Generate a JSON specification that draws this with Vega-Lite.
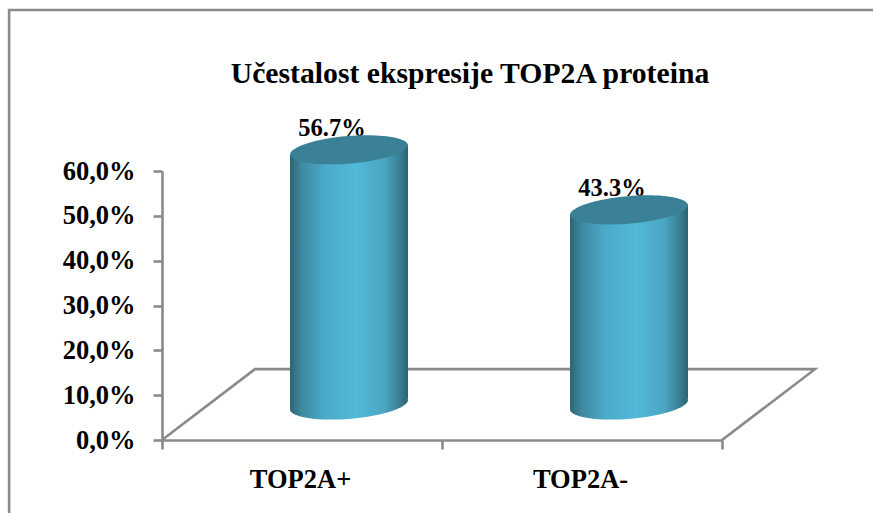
{
"$schema":"https://vega.github.io/schema/vega-lite/v6.json",
"width":560,"height":269,
"autosize":{"type":"none"},
"padding":{"left":162,"top":171,"right":151,"bottom":73},
"background":"white",
"config":{"view":{"stroke":null},"font":"Liberation Serif"},
"title":{"text":"Učestalost ekspresije TOP2A proteina","font":"Liberation Serif","fontSize":29.7,"fontWeight":"bold","color":"black","anchor":"middle","dx":28,"offset":-108,"baseline":"alphabetic"},
"datasets":{
"bars":[{"category":"TOP2A+","value":56.7,"label":"56.7%"},{"category":"TOP2A-","value":43.3,"label":"43.3%"}],
"outline":[
{"part":"frame","step":1,"u":-0.546,"v":-16.3},
{"part":"frame","step":2,"u":-0.546,"v":95.9},
{"part":"frame","step":3,"u":2.54,"v":95.9},
{"part":"floor","step":1,"u":0,"v":0},
{"part":"floor","step":2,"u":0.332,"v":15.8},
{"part":"floor","step":3,"u":2.332,"v":15.8},
{"part":"floor","step":4,"u":2,"v":0}
]},
"resolve":{"scale":{"x":"independent"}},
"encoding":{
 "y":{"field":"value","type":"quantitative","title":null,
   "scale":{"domain":[0,60],"nice":false},
   "axis":{"values":[0,10,20,30,40,50,60],"labelExpr":"replace(format(datum.value,'.1f'),'.',',')+'%'","labelPadding":18,"labelFont":"Liberation Serif","labelFontSize":26.5,"labelFontWeight":"bold","labelColor":"black","domainColor":"#8a8a8a","domainWidth":2.6,"tickColor":"#8a8a8a","tickWidth":2.6,"tickSize":9,"grid":false}}},
"layer":[
{"data":{"name":"outline"},
 "mark":{"type":"line","stroke":"#8a8a8a","strokeWidth":2.6,"clip":false},
 "encoding":{
  "x":{"field":"u","type":"quantitative","scale":{"domain":[0,2],"nice":false,"zero":false},"axis":null},
  "y":{"field":"v","type":"quantitative","title":null},
  "detail":{"field":"part"},
  "order":{"field":"step"}}},
{"data":{"name":"bars"},
 "encoding":{
  "x":{"field":"category","type":"nominal","sort":null,"title":null,
   "scale":{"domain":["TOP2A+","TOP2A-"],"paddingInner":0,"paddingOuter":0},
   "axis":{"tickBand":"extent","labelAngle":0,"labelOffset":-2,"labelPadding":17,"labelFont":"Liberation Serif","labelFontSize":26.5,"labelFontWeight":"bold","labelColor":"black","domainColor":"#8a8a8a","domainWidth":2.6,"tickColor":"#8a8a8a","tickWidth":2.6,"tickSize":9,"grid":false}}},
 "layer":[
  {"mark":{"type":"text","font":"Liberation Serif","fontSize":24.5,"fontWeight":"bold","color":"black","xOffset":30,"yOffset":-57,"clip":false},
   "encoding":{"text":{"field":"label"}}},
  {"mark":{"type":"point","filled":true,"opacity":1,"size":13924,"xOffset":47,"yOffset":-35,"clip":false,
    "shape":"M-1 0.085A1.004 0.24 -4.8 0 0 1 -0.085A1.004 0.24 -4.8 0 0 -1 0.085Z",
    "color":{"x1":0,"y1":0,"x2":1,"y2":0,"gradient":"linear","stops":[{"offset":0,"color":"#2c6475"},{"offset":0.1,"color":"#3f8aa1"},{"offset":0.3,"color":"#4aaac8"},{"offset":0.55,"color":"#52b9d8"},{"offset":0.8,"color":"#4aa6c2"},{"offset":0.93,"color":"#3a7e93"},{"offset":1,"color":"#2c6272"}]}},
   "encoding":{"y":{"datum":0}}},
  {"mark":{"type":"bar","size":59,"xOffset":17.5,"yOffset":-31,"y2Offset":-30,"clip":false,
    "color":{"x1":0,"y1":0,"x2":1,"y2":0,"gradient":"linear","stops":[{"offset":0,"color":"#2c6475"},{"offset":0.2,"color":"#3f8aa1"},{"offset":0.6,"color":"#4aaac8"},{"offset":1,"color":"#50b6d4"}]}}},
  {"mark":{"type":"bar","size":59,"xOffset":76.5,"yOffset":-41,"y2Offset":-38,"clip":false,
    "color":{"x1":0,"y1":0,"x2":1,"y2":0,"gradient":"linear","stops":[{"offset":0,"color":"#50b6d4"},{"offset":0.1,"color":"#52b9d8"},{"offset":0.6,"color":"#4aa6c2"},{"offset":0.86,"color":"#3a7e93"},{"offset":1,"color":"#2c6272"}]}}},
  {"mark":{"type":"point","filled":true,"opacity":1,"size":13924,"xOffset":47,"yOffset":-36,"clip":false,"color":"#3a8198",
    "shape":"M-1 0.085A1.004 0.24 -4.8 0 0 1 -0.085A1.004 0.24 -4.8 0 0 -1 0.085Z"}}
 ]}
]}
